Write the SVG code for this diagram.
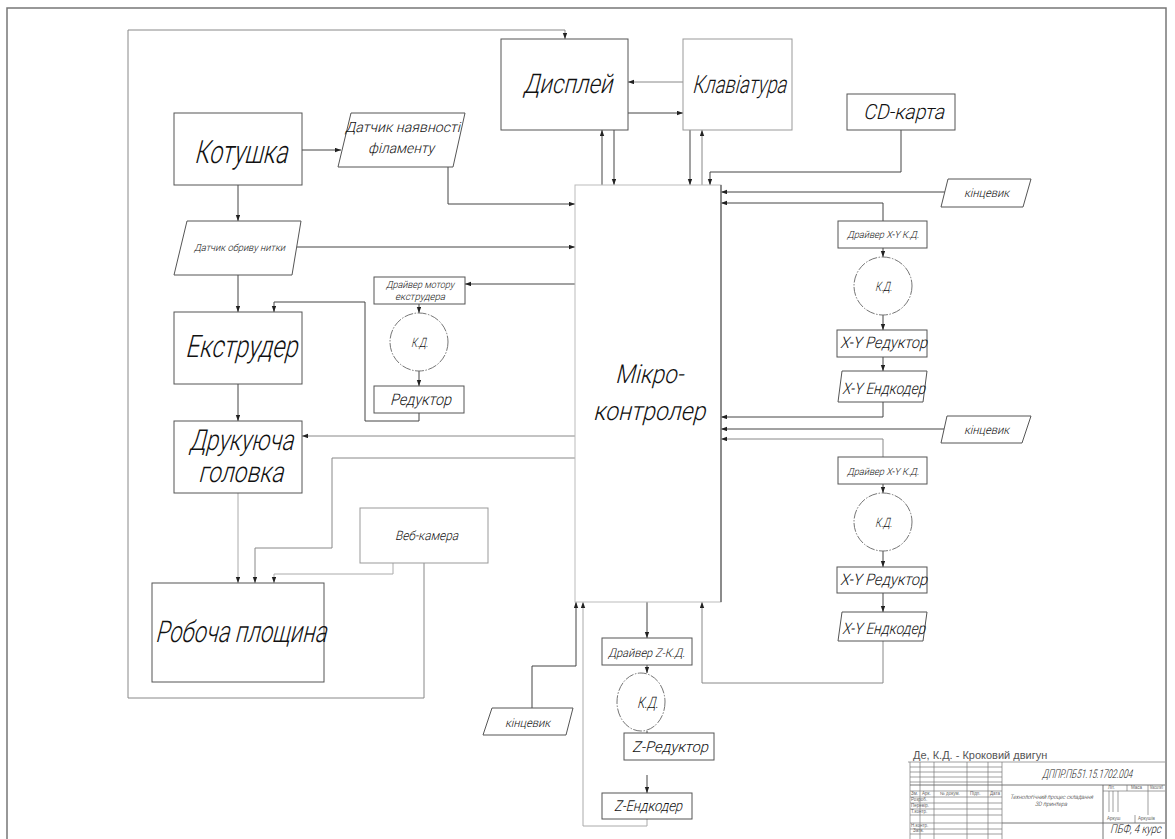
<svg xmlns="http://www.w3.org/2000/svg" width="1175" height="839" viewBox="0 0 1175 839">
<defs>
<marker id="a" markerUnits="userSpaceOnUse" markerWidth="6" markerHeight="5" refX="6" refY="2.2" orient="auto"><path d="M0,0 L6,2.2 L0,4.4 z" fill="#222"/></marker>
<style>
.b{fill:#fff;stroke:#555;stroke-width:1}
.bl{fill:#fff;stroke:#999;stroke-width:1}
.cir{fill:#fff;stroke:#666;stroke-width:0.9;stroke-dasharray:9 1.5 1.5 1.5}
.c{fill:none;stroke:#444;stroke-width:1;marker-end:url(#a)}
.cl{fill:none;stroke:#aaa;stroke-width:1;marker-end:url(#a)}
.cg{fill:none;stroke:#888;stroke-width:1;marker-end:url(#a)}
.t{font-family:Roboto,"Liberation Sans",Arial,sans-serif;font-weight:300;fill:#111}
.s{font-family:"Liberation Sans",Arial,sans-serif;fill:#666;font-size:4.5px}
.g{fill:none;stroke:#777;stroke-width:0.7}
</style>
</defs>
<rect x="7" y="8" width="1159" height="840" fill="#fff" stroke="#777" stroke-width="1.5"/>

<g id="connectors">
<path class="cg" d="M424,563 V698 H128 V30 H565 V39"/>
<path class="c" d="M302,150 H341"/>
<path class="c" d="M238,185 V221"/>
<path class="c" d="M448,167 V204 H575"/>
<path class="c" d="M297,247 H575"/>
<path class="c" d="M238,275 V312"/>
<path class="c" d="M575,284 H465"/>
<path class="c" d="M419,304 V313"/>
<path class="c" d="M419,371 V386"/>
<path class="c" d="M419,413 V421 H365 V302 H274 V312"/>
<path class="c" d="M238,384 V421"/>
<path class="cg" d="M575,436 H302"/>
<path class="cl" d="M238,493 V583"/>
<path class="cg" d="M575,458 H332 V548 H255 V583"/>
<path class="cl" d="M393,563 V574 H274 V583"/>
<path class="cg" d="M683,82 H628"/>
<path class="c" d="M628,113 H683"/>
<path class="c" d="M602,185 V130"/>
<path class="c" d="M614,130 V185"/>
<path class="c" d="M690,130 V185"/>
<path class="cg" d="M702,185 V130"/>
<path class="c" d="M901,130 V172 H710 V185"/>
<path class="c" d="M945,192 H721"/>
<path class="c" d="M883,221 V203 H721"/>
<path class="c" d="M883,248 V257"/>
<path class="c" d="M883,315 V330"/>
<path class="c" d="M883,357 V371"/>
<path class="c" d="M883,402 V417 H721"/>
<path class="c" d="M944,429 H721"/>
<path class="cg" d="M883,457 V439 H721"/>
<path class="c" d="M883,484 V493"/>
<path class="c" d="M883,551 V567"/>
<path class="c" d="M883,593 V612"/>
<path class="cg" d="M883,641 V683 H702 V602"/>
<path class="c" d="M647,602 V638"/>
<path class="c" d="M647,665 V673"/>
<path class="c" d="M647,731 V748"/>
<path class="c" d="M647,775 V793"/>
<path class="cl" d="M647,819 V826 H583 V602"/>
<path class="c" d="M532,708 V666 H576 V602"/>
</g>

<g id="n-kotushka"><rect class="b" x="174" y="113" width="128" height="72"/><text class="t" transform="translate(194,163) skewX(-14)" font-size="32" textLength="93" lengthAdjust="spacingAndGlyphs">Котушка</text></g>
<g id="n-datchyk-fil"><polygon class="b" points="351,113 465,113 453,167 338,167"/><text class="t" transform="translate(345,132) skewX(-14)" font-size="14" textLength="115" lengthAdjust="spacingAndGlyphs">Датчик наявності</text><text class="t" transform="translate(368,153) skewX(-14)" font-size="14" textLength="66" lengthAdjust="spacingAndGlyphs">філаменту</text></g>
<g id="n-datchyk-obr"><polygon class="b" points="187,221 301,221 292,275 174,275"/><text class="t" transform="translate(194,251) skewX(-14)" font-size="10" textLength="91" lengthAdjust="spacingAndGlyphs">Датчик обриву нитки</text></g>
<g id="n-ekstruder"><rect class="b" x="174" y="312" width="128" height="72"/><text class="t" transform="translate(185,357) skewX(-14)" font-size="31" textLength="112" lengthAdjust="spacingAndGlyphs">Екструдер</text></g>
<g id="n-holovka"><rect class="b" x="174" y="421" width="128" height="72"/><text class="t" transform="translate(189,450) skewX(-14)" font-size="29" textLength="104" lengthAdjust="spacingAndGlyphs">Друкуюча</text><text class="t" transform="translate(198,482) skewX(-14)" font-size="29" textLength="85" lengthAdjust="spacingAndGlyphs">головка</text></g>
<g id="n-robocha"><rect class="b" x="152" y="583" width="172" height="99"/><text class="t" transform="translate(155,642) skewX(-14)" font-size="30" textLength="171" lengthAdjust="spacingAndGlyphs">Робоча площина</text></g>
<g id="n-vebkamera"><rect class="bl" x="360" y="508" width="128" height="55"/><text class="t" transform="translate(395,540) skewX(-14)" font-size="13" textLength="63" lengthAdjust="spacingAndGlyphs">Веб-камера</text></g>
<g id="n-drajver-ext"><rect class="b" x="374" y="277" width="91" height="27"/><text class="t" transform="translate(386,288) skewX(-14)" font-size="10" textLength="68" lengthAdjust="spacingAndGlyphs">Драйвер мотору</text><text class="t" transform="translate(395,300) skewX(-14)" font-size="10" textLength="50" lengthAdjust="spacingAndGlyphs">екструдера</text></g>
<g id="n-kd-ext"><circle class="cir" cx="419" cy="342" r="29"/><text class="t" transform="translate(411,347) skewX(-14)" font-size="13" textLength="17" lengthAdjust="spacingAndGlyphs">К.Д.</text></g>
<g id="n-reduktor-ext"><rect class="b" x="374" y="386" width="90" height="27"/><text class="t" transform="translate(390,405) skewX(-14)" font-size="16" textLength="61" lengthAdjust="spacingAndGlyphs">Редуктор</text></g>
<g id="n-mcu"><rect x="575" y="185" width="146" height="417" fill="#fff" stroke="#bbb" stroke-width="1"/><line x1="721" y1="185" x2="721" y2="602" stroke="#555" stroke-width="1.2"/><text class="t" transform="translate(615,383) skewX(-14)" font-size="26" textLength="68" lengthAdjust="spacingAndGlyphs">Мікро-</text><text class="t" transform="translate(593,420) skewX(-14)" font-size="26" textLength="112" lengthAdjust="spacingAndGlyphs">контролер</text></g>
<g id="n-dysplei"><rect class="b" x="501" y="39" width="127" height="91"/><text class="t" transform="translate(523,93) skewX(-14)" font-size="27" textLength="89" lengthAdjust="spacingAndGlyphs">Дисплей</text></g>
<g id="n-klaviatura"><rect class="bl" x="683" y="39" width="109" height="91"/><text class="t" transform="translate(692,93) skewX(-14)" font-size="25" textLength="94" lengthAdjust="spacingAndGlyphs">Клавіатура</text></g>
<g id="n-cd"><rect class="b" x="847" y="94" width="108" height="36"/><text class="t" transform="translate(863,119) skewX(-14)" font-size="21" textLength="81" lengthAdjust="spacingAndGlyphs">CD-карта</text></g>
<g id="n-kinc1"><polygon class="b" points="948,179 1031,179 1023,207 941,207"/><text class="t" transform="translate(964,197) skewX(-14)" font-size="12" textLength="45" lengthAdjust="spacingAndGlyphs">кінцевик</text></g>
<g id="n-drxy1"><rect class="b" x="838" y="221" width="89" height="27"/><text class="t" transform="translate(847,238) skewX(-14)" font-size="10" textLength="72" lengthAdjust="spacingAndGlyphs">Драйвер X-Y К.Д.</text></g>
<g id="n-kd1"><circle class="cir" cx="883" cy="286" r="29"/><text class="t" transform="translate(875,291) skewX(-14)" font-size="13" textLength="17" lengthAdjust="spacingAndGlyphs">К.Д.</text></g>
<g id="n-redxy1"><rect class="b" x="837" y="330" width="90" height="27"/><text class="t" transform="translate(840,348) skewX(-14)" font-size="16" textLength="87" lengthAdjust="spacingAndGlyphs">X-Y Редуктор</text></g>
<g id="n-encxy1"><polygon class="b" points="842,371 927,371 923,402 838,402"/><text class="t" transform="translate(842,394) skewX(-14)" font-size="16" textLength="83" lengthAdjust="spacingAndGlyphs">X-Y Ендкодер</text></g>
<g id="n-kinc2"><polygon class="b" points="947,416 1031,416 1022,443 941,443"/><text class="t" transform="translate(964,434) skewX(-14)" font-size="12" textLength="45" lengthAdjust="spacingAndGlyphs">кінцевик</text></g>
<g id="n-drxy2"><rect class="b" x="838" y="457" width="89" height="27"/><text class="t" transform="translate(847,475) skewX(-14)" font-size="10" textLength="72" lengthAdjust="spacingAndGlyphs">Драйвер X-Y К.Д.</text></g>
<g id="n-kd2"><circle class="cir" cx="883" cy="522" r="29"/><text class="t" transform="translate(875,527) skewX(-14)" font-size="13" textLength="17" lengthAdjust="spacingAndGlyphs">К.Д.</text></g>
<g id="n-redxy2"><rect class="b" x="837" y="567" width="90" height="26"/><text class="t" transform="translate(840,585) skewX(-14)" font-size="16" textLength="87" lengthAdjust="spacingAndGlyphs">X-Y Редуктор</text></g>
<g id="n-encxy2"><polygon class="b" points="842,612 927,612 923,641 838,641"/><text class="t" transform="translate(842,634) skewX(-14)" font-size="16" textLength="83" lengthAdjust="spacingAndGlyphs">X-Y Ендкодер</text></g>
<g id="n-drz"><rect class="b" x="602" y="638" width="90" height="27"/><text class="t" transform="translate(608,657) skewX(-14)" font-size="12" textLength="77" lengthAdjust="spacingAndGlyphs">Драйвер Z-К.Д.</text></g>
<g id="n-kdz"><ellipse class="cir" cx="641" cy="702" rx="24" ry="29"/><text class="t" transform="translate(637,708) skewX(-14)" font-size="16" textLength="21" lengthAdjust="spacingAndGlyphs">К.Д.</text></g>
<g id="n-redz"><rect class="b" x="624" y="733" width="90" height="27"/><text class="t" transform="translate(632,752) skewX(-14)" font-size="15" textLength="76" lengthAdjust="spacingAndGlyphs">Z-Редуктор</text></g>
<g id="n-encz"><rect class="b" x="602" y="793" width="90" height="26"/><text class="t" transform="translate(614,811) skewX(-14)" font-size="15" textLength="68" lengthAdjust="spacingAndGlyphs">Z-Ендкодер</text></g>
<g id="n-kinc3"><polygon class="b" points="492,708 573,708 566,735 483,735"/><text class="t" transform="translate(505,727) skewX(-14)" font-size="12" textLength="45" lengthAdjust="spacingAndGlyphs">кінцевик</text></g>

<g id="title-block">
<text x="913" y="759" font-family="'Liberation Sans',Arial,sans-serif" font-size="11" fill="#555">Де, К.Д. - Кроковий двигун</text>
<path class="g" d="M908,762 H1165 M910,762 V839 M1002,762 V839 M920,762 V839 M934,762 V839 M967,762 V839 M988,762 V839 M910,767 H1002 M910,772 H1002 M910,777 H1002 M910,782 H1002 M910,791 H1002 M910,797 H1002 M910,803 H1002 M910,809 H1002 M910,815 H1002 M910,823 H1002 M910,829 H1002 M910,834 H1002"/>
<path d="M910,785 H1165 M1103,785 V839 M1002,823 H1165" fill="none" stroke="#666" stroke-width="0.9"/>
<path class="g" d="M1103,791 H1165 M1127,785 V791 M1148,785 V815 M1109,791 V812 M1113,791 V812 M1118,791 V812 M1135,815 V823"/>
<text class="t" transform="translate(1042,778) skewX(-14)" font-size="12" textLength="90" lengthAdjust="spacingAndGlyphs" fill="#444">ДППР.ПБ51.15.1702.004</text>
<text class="t" transform="translate(1010,799) skewX(-14)" font-size="6" textLength="83" lengthAdjust="spacingAndGlyphs" fill="#666">Технологічний процес складання</text>
<text class="t" transform="translate(1035,806) skewX(-14)" font-size="6" textLength="32" lengthAdjust="spacingAndGlyphs" fill="#666">3D принтера</text>
<text class="s" x="911" y="795">Зм.</text><text class="s" x="922" y="795">Арк.</text><text class="s" x="940" y="795">№ докум.</text><text class="s" x="970" y="795">Підп.</text><text class="s" x="990" y="795">Дата</text>
<text class="s" x="911" y="801">Розроб.</text><text class="s" x="911" y="807">Перевір.</text><text class="s" x="911" y="813">Т.контр.</text><text class="s" x="911" y="827">Н.контр.</text><text class="s" x="913" y="832">Затв.</text>
<text class="s" x="1108" y="789">Літ.</text><text class="s" x="1131" y="789">Маса</text><text class="s" x="1150" y="789" textLength="13" lengthAdjust="spacingAndGlyphs">Масштаб</text>
<text class="s" x="1107" y="820">Аркуш</text><text class="s" x="1138" y="820">Аркушів</text>
<text class="t" transform="translate(1110,833) skewX(-14)" font-size="12" textLength="51" lengthAdjust="spacingAndGlyphs" fill="#333">ПБФ, 4 курс</text>
</g>
</svg>
